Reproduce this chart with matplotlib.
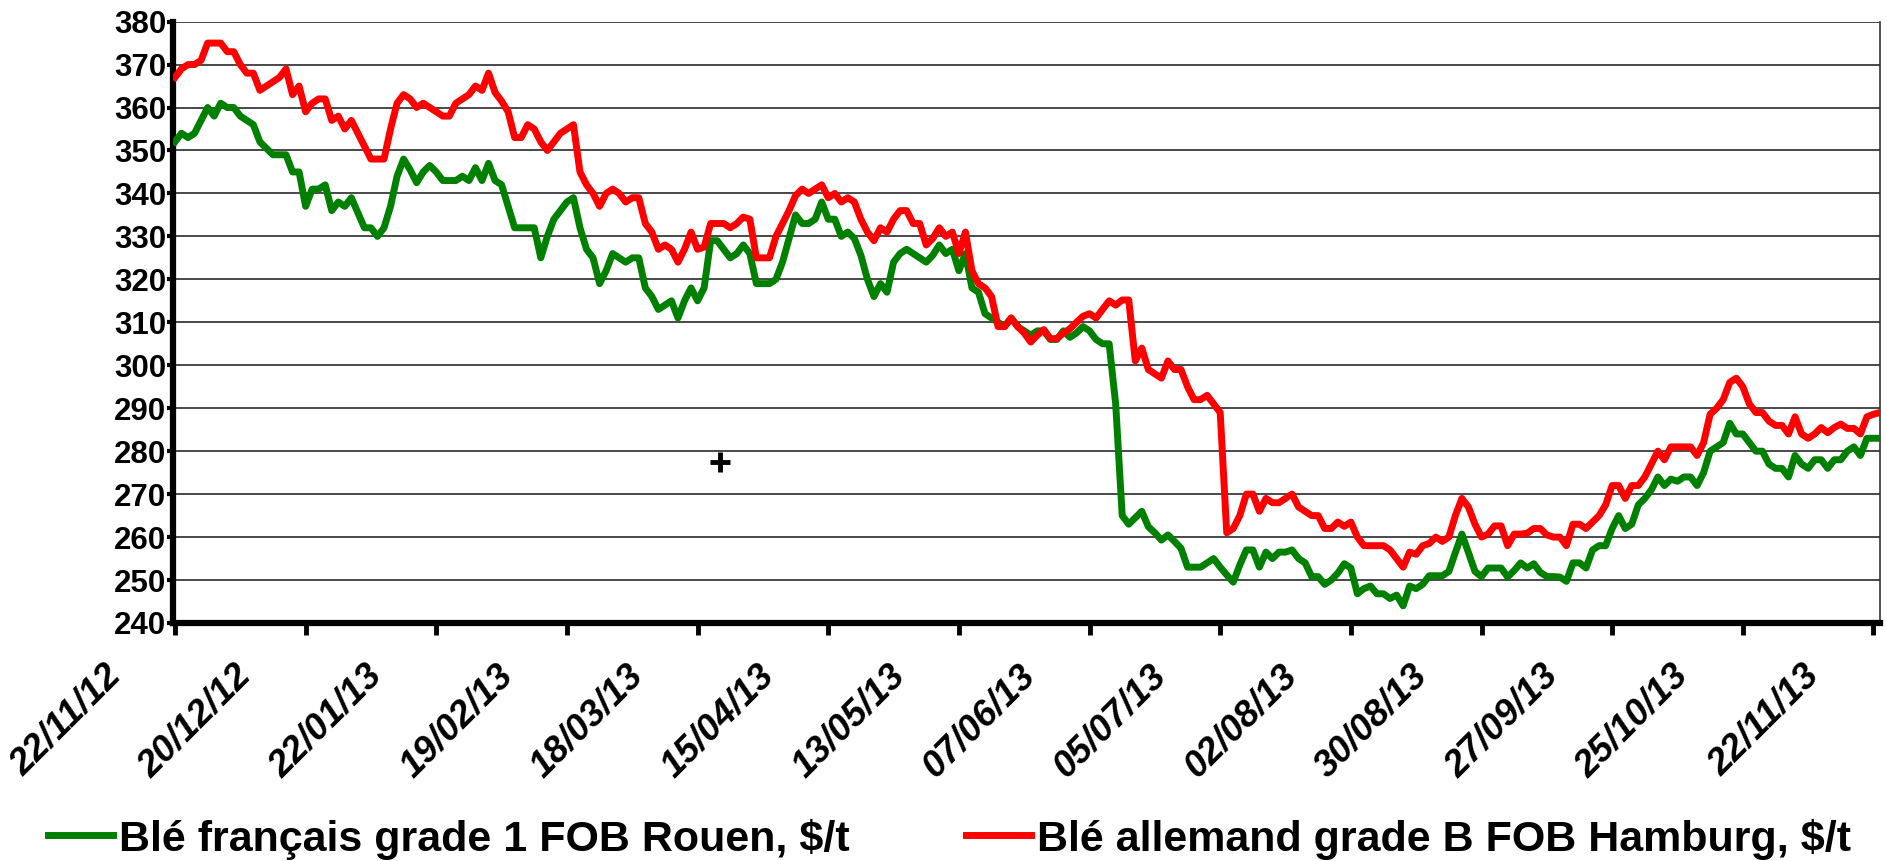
import matplotlib
matplotlib.use('Agg')
import matplotlib.pyplot as plt
from matplotlib.transforms import ScaledTranslation

# dates shown under the ticks (one tick every 20 quotes)
dates = ['22/11/12', '20/12/12', '22/01/13', '19/02/13', '18/03/13', '15/04/13', '13/05/13',
         '07/06/13', '05/07/13', '02/08/13', '30/08/13', '27/09/13', '25/10/13', '22/11/13']

# Blé français grade 1 FOB Rouen, $/t
rouen = [352, 354, 353, 354, 357, 360, 358, 361, 360, 360,
         358, 357, 356, 352, 350.5, 349, 349, 349, 345, 345,
         337, 341, 341, 342, 336, 338, 337, 339, 335.5, 332,
         332, 330, 332, 337, 344, 348, 345.5, 342.5, 345, 346.5,
         345, 343, 343, 343, 344, 343, 346, 343, 347, 343,
         342, 337, 332, 332, 332, 332, 325, 330, 334, 336,
         338, 339, 332, 327, 325, 319, 322, 326, 325, 324,
         325, 325, 318, 316, 313, 314, 315, 311, 315, 318,
         315, 318, 329, 329, 327, 325, 326, 328, 326, 319,
         319, 319, 320, 324, 329.5, 335, 333, 333, 334, 338,
         334, 334, 330, 331, 329.5, 325.6, 320, 316, 319, 317,
         324, 326, 327, 326, 325, 324, 325.6, 328, 326, 327,
         322, 326, 318, 317, 312, 311, 310, 309, 311, 309,
         308, 307, 308, 308, 306, 306, 308, 306.5, 307.5, 309,
         308, 306, 305, 305, 291, 265, 263, 264.5, 266, 262.4,
         261, 259.3, 260.5, 259, 257.4, 253, 253, 253, 254, 255,
         253, 251.2, 249.5, 253.5, 257, 257, 253, 256.5, 255, 256.5,
         256.5, 257, 255, 254, 250.8, 250.8, 249, 250, 251.6, 253.8,
         252.8, 246.8, 248, 248.6, 246.8, 246.8, 245.7, 246.5, 244, 248.6,
         248, 249, 251, 251, 251, 252, 256.4, 260.7, 256.4, 252,
         250.8, 252.8, 252.8, 252.8, 250.7, 252.2, 254, 252.8, 253.8, 251.8,
         250.8, 250.8, 250.7, 249.7, 254, 254, 252.8, 257, 258, 258,
         262, 265, 262, 263, 267.5, 269, 271, 274, 272, 273.5,
         273, 274, 274, 272, 275, 280, 281, 282, 286.5, 284,
         284, 282, 280, 280, 277, 276, 276, 274, 279, 277,
         276, 278, 278, 276, 278, 278, 280, 281, 279, 283,
         283, 283]

# Blé allemand grade B FOB Hamburg, $/t
hamburg = [367, 369, 370, 370, 371, 375, 375, 375, 373, 373,
           370, 368, 368, 364, 365, 366, 367, 369, 363, 365,
           359, 361, 362, 362, 357, 358, 355, 357, 354, 351,
           348, 348, 348, 355, 361, 363, 362, 360, 361, 360,
           359, 358, 358, 361, 362, 363, 365, 364, 368, 363.5,
           361.5, 359, 353, 353, 356, 355, 352, 350, 352, 354,
           355, 356, 345, 342, 340, 337, 340, 341, 340, 338,
           339, 339, 333, 331, 327, 328, 327, 324, 327, 331,
           327, 327.5, 333, 333, 333, 332, 333, 334.5, 334, 325,
           325, 325, 330, 333, 336, 339.5, 341, 340, 341, 342,
           339, 340, 338, 339, 338, 334, 331, 329, 332, 331,
           334, 336, 336, 333, 333, 328, 329.5, 332, 330, 331,
           326, 331, 322, 319, 318, 316, 309, 309, 311, 309,
           307.5, 305.4, 307, 308.3, 306.2, 306.2, 307.5, 308.5, 310, 311.4,
           312, 311, 313, 315, 314, 315.2, 315.2, 301, 304, 299,
           298, 297, 301, 299, 299, 295, 292, 292, 293, 291,
           289, 261, 262, 265, 270, 270, 266, 269, 268, 268,
           269, 270, 267, 266, 265, 265, 262, 262, 263.5, 262.5,
           263.5, 260, 258, 258, 258, 258, 257, 255, 253, 256.5,
           256, 258, 258.5, 260, 259, 260, 265, 269, 267, 263,
           260, 260.7, 262.6, 262.6, 258, 260.7, 260.7, 260.9, 262, 262,
           260.5, 260, 260, 258, 263, 263, 262, 263.5, 265, 267.5,
           272, 272, 269, 272, 272, 274, 277, 280, 278, 281,
           281, 281, 281, 279, 282, 288.6, 290, 292, 296, 297,
           295, 291, 289, 289, 287, 286, 286, 284, 288, 284,
           283, 284, 285.5, 284.3, 285.5, 286.3, 285.3, 285.3, 284, 288,
           288.6, 289]

# stray cross drawn in the plot area
cross_x = [83.4]
cross_y = [277.5]

plt.rcParams['font.family'] = ['Liberation Sans', 'DejaVu Sans']

fig = plt.figure(figsize=(18.87, 8.61), dpi=100)
ax = fig.add_axes([173 / 1887, 1 - 623 / 861, 1707 / 1887, (623 - 21.6) / 861])

x = list(range(len(rouen)))
ax.plot(x, rouen, color='#008000', lw=5, solid_joinstyle='round',
        label='Blé français grade 1 FOB Rouen, $/t', zorder=3)
ax.plot(x, hamburg, color='#ff0000', lw=5, solid_joinstyle='round',
        label='Blé allemand grade B FOB Hamburg, $/t', zorder=4)
ax.plot(cross_x, cross_y, '+', color='black', ms=15, mew=3.5, zorder=5)

ax.set_xlim(-0.3, len(rouen) - 1)
ax.set_ylim(240, 380)
ax.set_yticks(range(240, 381, 10))
ax.set_xticks(range(0, len(rouen), 20))

ax.yaxis.grid(True, color='#2a2a2a', lw=1.2)
ax.set_axisbelow(True)

for side in ['left', 'bottom']:
    ax.spines[side].set_linewidth(4.5)
    ax.spines[side].set_color('black')
ax.spines['top'].set_visible(False)
ax.spines['right'].set_linewidth(1.2)
ax.spines['right'].set_color('#333333')

ax.tick_params(axis='y', direction='out', length=4, width=3, pad=1,
               labelsize=22.5)
ax.tick_params(axis='x', direction='out', length=8.5, width=3.5, pad=16.5)
for lab in ax.get_yticklabels():
    lab.set_fontweight('bold')

ax.set_xticklabels(dates, rotation=45, ha='right', va='top', fontsize=26.5,
                   fontweight='bold', fontstyle='italic')
shift = ScaledTranslation(-0.47, 0, fig.dpi_scale_trans)
for lab in ax.get_xticklabels():
    lab.set_transform(lab.get_transform() + shift)

fig.legend(loc='center left', bbox_to_anchor=(48 / 1887, 1 - 839 / 861), ncol=2,
           frameon=False, prop={'weight': 'bold', 'size': 31}, handlelength=1.5,
           handletextpad=0.15, columnspacing=2.7, borderpad=0, borderaxespad=0)

fig.savefig('out.png', dpi=100)
